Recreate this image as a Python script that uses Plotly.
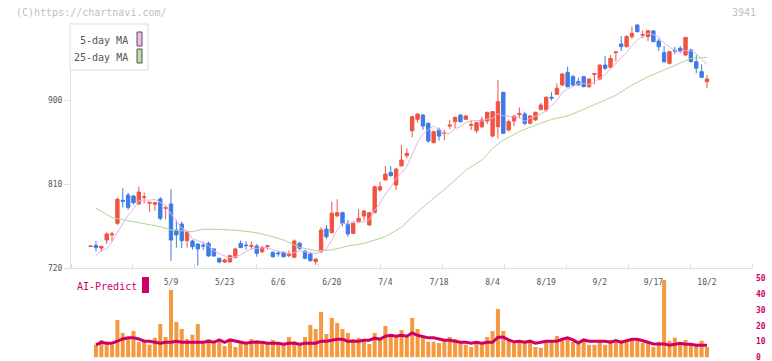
import plotly.graph_objects as go
import pandas as pd

# ---- data ----
open_ = [743,744.3,741.4,750,755.5,767.9,792.5,798.2,797.1,788.6,795.5,789.5,788.3,793.9,784,788.6,760.7,767.1,749.3,748.9,
         745.7,744.4,746.4,740.4,730.4,726.4,726.4,731.5,746.4,744.6,743.2,743.6,737.5,743.2,736.8,736.1,736.8,733.2,731.5,746.4,
         738.2,735,726.8,737.5,761.8,757.8,775.7,779.3,767.1,757.1,769.6,775.7,766.1,779.3,803.6,814.3,822.5,808.9,829.3,840.3,
         867.1,879.3,883.9,875,854.3,867.9,864,872.1,876.8,883.9,879.3,872.9,867.1,871.4,877.5,861.4,871.4,908.2,867.9,877.5,
         884.6,885,875,878.6,890,889.3,902.9,906.1,916.1,929.6,925,919.6,925,914.3,927.5,922.5,937.5,935,950.7,960,
         957.1,967.9,980.4,969.3,967.9,974,963.2,950.7,939.3,953.2,955.4,948.2,953.6,941,930.4,919.6]
high = [744,748.9,743.5,758.2,758.9,795.7,805.4,800.4,798,807.1,801.1,791,790.5,796,786.4,804.6,771.4,769.6,759.6,750,
        746.4,748.2,748.2,741.5,731,730,734.3,741.8,749.6,748.6,748.6,745.7,743.5,744.6,737.5,738.6,737.5,738.6,750.7,748.2,
        739.3,737.5,730.4,763.6,766.1,791,793.6,780.4,771.4,768.5,782.9,782.1,780,808,812.5,829.3,829.3,827,851.8,848.2,
        883.2,885.7,885,876,867,870.4,867.9,878.6,882,884.5,884,878.6,876.8,882.1,887.5,888,921.4,909,879,883.5,
        892.1,887.5,884,887.5,897,903.9,908.6,917.9,928.6,935.7,927,924,926,923,928.6,938,947.1,948.2,952.5,968.6,
        969.6,978.6,981,974.6,975,975,966,957.9,952.5,957,958,967.5,955,948.2,938.2,926.8]
low = [742.5,737.5,737.5,745.7,748.2,766.1,784.6,782.1,788,787.5,789.3,780.3,781.4,771,772.2,727.8,741.8,741.1,741.8,739.6,
       722.5,739.3,732.1,732,725,725.3,726,730,741.4,739.6,739.6,732.1,735.7,739.6,731,732.1,731,731.5,731.5,739.3,
       729.3,726.8,723.2,735.7,751.1,757.1,775,764.6,753.5,756.5,768.5,770.7,765,778.5,801.8,814.3,818,803.6,829.3,837.5,
       860,875.7,867.9,854.3,853.5,856.4,857.1,868.6,870,876,878.6,867.9,864.6,869.6,874.3,860,859,863.5,866,872.1,
       880.4,873.2,874,877.5,888.6,887.5,899.3,905.4,915,913.5,914.3,915,913.5,912.9,916.8,921,932.1,934,941.4,952.5,
       956.4,965.4,972.5,966.1,963.2,962,952.5,940,938,949.6,950,947.5,940.5,928.6,923.5,912.5]
close = [743.5,741.8,743.2,756.4,756.4,793.6,791.5,785,790,801.4,796.2,790.3,790,773.2,784.8,750,755.4,749.3,758.9,742.8,
         740.4,743.6,732.9,732.9,726.4,728.6,733.2,740.4,741.8,744,743.9,735.7,742.2,743.9,732.1,735.3,732.1,735,748.9,741.1,
         730.4,727.9,729.6,760.7,753.5,778.6,779.3,767.9,756.4,767.9,773.2,781.1,779.3,807.1,807.1,820.7,818.9,826.1,835.7,842.9,
         882.1,885,872.1,856.1,866.1,861.4,864.6,873,881.4,876.8,882.9,873.6,875.7,878.6,886.8,887.5,898.2,864.3,876.8,882.9,
         885.4,875,882.9,886.8,894.6,902.9,902.1,912.5,927.9,914.3,916.1,916.1,914.3,922.5,928.2,937.5,934,944.6,951.5,957.1,
         967.9,971.4,973.2,970,974.3,962.5,957.1,941,951.8,952.5,952.9,967.1,941,934,924.3,922.5]

volume = [None,8.0,11.1,9.0,8.0,23.7,15.5,12.8,16.8,9.6,10.3,8.0,12.4,21.2,13.0,42.6,22.4,18.0,11.7,14.3,
          21.2,10.3,11.7,9.0,10.3,7.3,11.1,6.7,9.6,9.0,11.7,11.1,10.3,9.0,11.1,9.0,8.0,13.0,10.3,8.0,
          13.0,20.5,18.0,28.7,14.9,24.9,21.8,18.0,15.5,11.7,12.4,11.1,8.6,15.5,12.4,19.9,14.3,13.0,17.4,13.0,
          24.9,18.0,13.6,9.9,9.9,9.2,11.1,13.0,11.7,9.9,8.0,6.7,9.9,9.2,13.0,16.8,30.6,16.8,10.5,9.2,
          9.9,9.9,9.9,6.7,6.1,9.9,11.1,13.6,10.5,12.4,9.9,8.6,11.1,8.0,8.0,9.9,8.0,11.1,11.1,10.5,
          9.9,11.1,10.5,9.2,9.9,6.7,9.9,49.0,10.5,12.4,9.2,11.1,8.6,8.0,10.5,6.7]

ai_predict = [None,8.0,9.6,9.0,9.0,10.3,11.7,12.4,12.4,11.7,10.3,10.3,9.6,9.0,9.6,9.6,10.3,9.6,9.6,9.6,
              9.6,9.6,10.3,9.6,11.1,9.6,11.1,10.3,9.6,9.0,9.6,9.6,9.6,9.0,9.0,9.0,8.4,9.0,9.0,8.4,
              9.0,9.0,9.0,10.3,10.3,10.9,11.5,11.5,10.3,10.3,10.3,10.9,10.9,12.2,11.5,13.4,14.0,13.4,14.0,13.4,
              15.5,14.0,13.4,12.4,12.4,11.5,10.9,10.9,10.3,9.6,9.6,9.0,9.6,9.0,9.6,9.6,12.8,12.8,11.1,9.9,
              10.3,9.6,10.3,9.0,9.6,10.3,10.3,10.3,11.5,12.4,11.1,9.2,11.1,10.3,10.3,10.3,10.3,9.6,10.7,9.6,
              10.7,11.5,11.5,10.3,9.6,8.6,8.6,8.6,7.8,8.4,9.0,8.4,8.4,7.8,7.8,7.8]

ma25_idx = [1,4,8,11,13,15,19,21,24,28,31,33,36,39,42,45,48,51,55,58,61,64,67,70,73,75,77,80,83,86,89,92,95,98,101,104,107,110,112,115]
ma25_val = [784,774,769.6,766.5,764.3,760.7,759,761.5,761.5,760,757.8,755,750,742.2,738.5,739.3,743.6,746.4,753.5,763.6,
            780.3,794.7,808.9,825,835.7,848.2,857.1,866.1,873.2,879.3,882.9,890,897.1,905,916.1,925,932.1,939.3,944.6,945.7]
ma5_head = [None, 733.0, 739.3, 740.4]

tick_idx = [15,25,35,45,55,65,75,85,95,105,115]
tick_labels = ["5/9","5/23","6/6","6/20","7/4","7/18","8/4","8/19","9/2","9/17","10/2"]

# ---- derived ----
idx = list(range(len(close)))
ma5 = list(pd.Series(close).rolling(5).mean())
ma5 = ma5_head + ma5[4:]

X_RANGE = [-3.66, 123.4]
grid_idx = [X_RANGE[0] + (X_RANGE[1]-X_RANGE[0])*k/11 for k in range(12)]

RED = "#f25340"
BLUE = "#3d7be8"
MAG = "#cc0066"
FONT = "DejaVu Sans Mono"
W, H = 772, 361
L, R = 71, 20
PW = W - L - R

def px(x):
    return (x - L) / PW

def py(y):
    return (H - y) / H

fig = go.Figure()

fig.add_trace(go.Scatter(x=ma25_idx, y=ma25_val, mode="lines",
                         line=dict(color="#a8d898", width=1), xaxis="x", yaxis="y", hoverinfo="skip"))
fig.add_trace(go.Scatter(x=idx, y=ma5, mode="lines",
                         line=dict(color="#e8b0e8", width=1), xaxis="x", yaxis="y", hoverinfo="skip"))
fig.add_trace(go.Candlestick(x=idx, open=open_, high=high, low=low, close=close,
                             increasing=dict(line=dict(color=RED, width=1), fillcolor=RED),
                             decreasing=dict(line=dict(color=BLUE, width=1), fillcolor=BLUE),
                             whiskerwidth=0, xaxis="x", yaxis="y"))

fig.add_trace(go.Bar(x=idx, y=volume, marker=dict(color="#f39a40", line=dict(width=0)),
                     width=0.75, xaxis="x2", yaxis="y2"))
fig.add_trace(go.Scatter(x=idx, y=ai_predict, mode="lines",
                         line=dict(color=MAG, width=3), xaxis="x2", yaxis="y2"))

fig.update_layout(
    width=W, height=H,
    margin=dict(l=L, r=R, t=0, b=0, autoexpand=False),
    paper_bgcolor="white", plot_bgcolor="white",
    showlegend=False,
    boxgap=0.1,
    font=dict(family=FONT, size=8, color="#555555"),
    xaxis=dict(domain=[0, 1], range=X_RANGE, anchor="y", automargin=False,
               rangeslider=dict(visible=False),
               showgrid=False, zeroline=False,
               showline=True, linecolor="#e0e0e0", linewidth=1,
               tickmode="array", tickvals=tick_idx, ticktext=tick_labels,
               ticks="", ticklabelstandoff=6,
               tickfont=dict(family=FONT, size=8, color="#555555"),
               minor=dict(tickmode="array", tickvals=grid_idx, ticks="inside",
                          ticklen=4, tickcolor="#e0e0e0", tickwidth=1, showgrid=False)),
    yaxis=dict(domain=[py(268), py(22)], range=[720, 720 + (268-22)/0.9333], anchor="x",
               automargin=False,
               showgrid=False, zeroline=False,
               showline=True, linecolor="#e0e0e0", linewidth=1,
               tickmode="array", tickvals=[720, 810, 900],
               ticks="outside", ticklen=6, tickcolor="#e0e0e0",
               tickfont=dict(family=FONT, size=8, color="#555555")),
    xaxis2=dict(domain=[0, 1], range=X_RANGE, anchor="y2", visible=False),
    yaxis2=dict(domain=[py(357.5), py(278.3)], range=[0, 50], anchor="x2", side="right",
                automargin=False,
                showgrid=False, zeroline=False, showline=False,
                tickmode="array", tickvals=[0, 10, 20, 30, 40, 50], ticks="",
                ticklabelstandoff=3, ticklabeloverflow="allow",
                tickfont=dict(family=FONT, size=8, color=MAG, weight="bold")),
)

# header texts
fig.add_annotation(text="(C)https://chartnavi.com/", xref="paper", yref="paper",
                   x=px(14), y=py(12), xanchor="left", yanchor="middle", showarrow=False,
                   font=dict(family=FONT, size=10, color="#c0c0c0"))
fig.add_annotation(text="3941", xref="paper", yref="paper",
                   x=px(758), y=py(12), xanchor="right", yanchor="middle", showarrow=False,
                   font=dict(family=FONT, size=10, color="#c0c0c0"))

# MA legend box
fig.add_shape(type="rect", xref="paper", yref="paper", x0=px(70), x1=px(148), y0=py(70), y1=py(24),
              fillcolor="white", line=dict(color="#dddddd", width=1))
fig.add_shape(type="rect", xref="paper", yref="paper", x0=px(137), x1=px(142), y0=py(46), y1=py(32),
              fillcolor="#f0b8f0", line=dict(color="#555555", width=1))
fig.add_shape(type="rect", xref="paper", yref="paper", x0=px(137), x1=px(142), y0=py(63), y1=py(49),
              fillcolor="#b8e0a8", line=dict(color="#555555", width=1))
fig.add_annotation(text="5-day MA", xref="paper", yref="paper", x=px(130), y=py(40),
                   xanchor="right", yanchor="middle", showarrow=False,
                   font=dict(family=FONT, size=10, color="#555555"))
fig.add_annotation(text="25-day MA", xref="paper", yref="paper", x=px(130), y=py(57),
                   xanchor="right", yanchor="middle", showarrow=False,
                   font=dict(family=FONT, size=10, color="#555555"))

# AI-Predict label
fig.add_annotation(text="AI-Predict", xref="paper", yref="paper", x=px(75), y=py(286),
                   xanchor="left", yanchor="middle", showarrow=False,
                   font=dict(family=FONT, size=10, color=MAG))
fig.add_shape(type="rect", xref="paper", yref="paper", x0=px(142), x1=px(149), y0=py(293), y1=py(277),
              fillcolor=MAG, line=dict(width=0))

fig.write_html("out.html", config={"displayModeBar": False},
               post_script="document.body.style.margin='0px';document.body.style.overflow='hidden';")
